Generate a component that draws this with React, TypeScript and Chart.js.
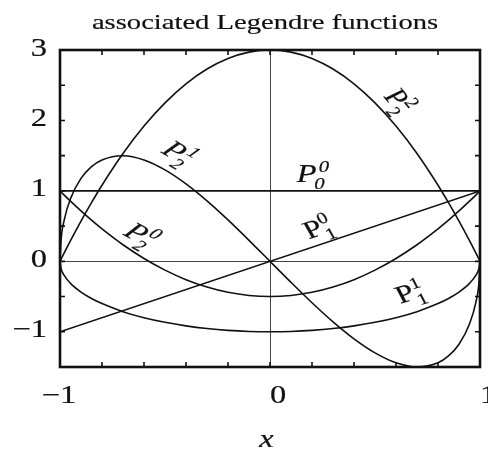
import { useEffect, useRef } from "react";
import { Chart, registerables } from "chart.js";

Chart.register(...registerables);

// Sample points on [-1, 1], denser near the ends where some curves turn steeply.
const X_GRID = [-1, -0.995, -0.98, -0.95, -0.9, -0.85, -0.8, -0.7, -0.6, -0.5, -0.4, -0.3, -0.2, -0.1, 0, 0.1, 0.2, 0.3, 0.4, 0.5, 0.6, 0.7, 0.8, 0.85, 0.9, 0.95, 0.98, 0.995, 1];
const X_ENDS = [-1, 1];

const P00 = [1, 1];
const P10 = [-1, 1];
const P11 = [0, -0.0999, -0.199, -0.3122, -0.4359, -0.5268, -0.6, -0.7141, -0.8, -0.866, -0.9165, -0.9539, -0.9798, -0.995, -1, -0.995, -0.9798, -0.9539, -0.9165, -0.866, -0.8, -0.7141, -0.6, -0.5268, -0.4359, -0.3122, -0.199, -0.0999, 0];
const P20 = [1, 0.985, 0.9406, 0.8538, 0.715, 0.5838, 0.46, 0.235, 0.04, -0.125, -0.26, -0.365, -0.44, -0.485, -0.5, -0.485, -0.44, -0.365, -0.26, -0.125, 0.04, 0.235, 0.46, 0.5838, 0.715, 0.8538, 0.9406, 0.985, 1];
const P21 = [0, 0.2982, 0.5851, 0.8898, 1.1769, 1.3433, 1.44, 1.4996, 1.44, 1.299, 1.0998, 0.8585, 0.5879, 0.2985, 0, -0.2985, -0.5879, -0.8585, -1.0998, -1.299, -1.44, -1.4996, -1.44, -1.3433, -1.1769, -0.8898, -0.5851, -0.2982, 0];
const P22 = [0, 0.0299, 0.1188, 0.2925, 0.57, 0.8325, 1.08, 1.53, 1.92, 2.25, 2.52, 2.73, 2.88, 2.97, 3, 2.97, 2.88, 2.73, 2.52, 2.25, 1.92, 1.53, 1.08, 0.8325, 0.57, 0.2925, 0.1188, 0.0299, 0];

// Axis ticks (inward marks) and the labelled values.
const X_MARKS = [-0.8, -0.6, -0.4, -0.2, 0, 0.2, 0.4, 0.6, 0.8];
const Y_MARKS = [-1, -0.5, 0, 0.5, 1, 1.5, 2, 2.5];
const X_LABELS = [-1, 0, 1];
const Y_LABELS = [-1, 0, 1, 2, 3];

const TITLE = "associated Legendre functions";
const X_TITLE = "x";

// Curve labels P_sub^sup, anchored in data coordinates.
const CURVE_LABELS = [
  { sub: "2", sup: "2", x: 0.61, y: 2.27, angle: 50, italic: false },
  { sub: "2", sup: "1", x: -0.438, y: 1.53, angle: 30, italic: true },
  { sub: "0", sup: "0", x: 0.2, y: 1.22, angle: 0, italic: true },
  { sub: "1", sup: "0", x: 0.229, y: 0.468, angle: -18.6, italic: false },
  { sub: "2", sup: "0", x: -0.619, y: 0.369, angle: 28, italic: true },
  { sub: "1", sup: "1", x: 0.667, y: -0.454, angle: -17, italic: false },
];

const SX = 1.3; // horizontal widening of the typeface
const FAMILY = '"Liberation Serif", "Times New Roman", serif';
const INK = "#111";
const TEXT_WEIGHT = 0.2;

function inkText(ctx: CanvasRenderingContext2D, text: string, x: number, y: number) {
  ctx.fillText(text, x, y);
  ctx.strokeText(text, x, y);
}

function wideText(ctx: CanvasRenderingContext2D, text: string, x: number, y: number, font: string, align: CanvasTextAlign) {
  ctx.save();
  ctx.translate(x, y);
  ctx.scale(SX, 1);
  ctx.font = font;
  ctx.textAlign = align;
  ctx.textBaseline = "alphabetic";
  ctx.fillStyle = INK;
  ctx.strokeStyle = INK;
  ctx.lineWidth = TEXT_WEIGHT;
  inkText(ctx, text, 0, 0);
  ctx.restore();
}

const pairs = (xs: number[], ys: number[]) => xs.map((x, i) => ({ x, y: ys[i] }));

const decorations = {
  id: "decorations",
  beforeDatasetsDraw(chart: any) {
    const { ctx, chartArea: a, scales } = chart;
    const xs = scales.x, ys = scales.y;
    ctx.save();
    ctx.strokeStyle = "#444";
    ctx.lineWidth = 1;
    const x0 = Math.round(xs.getPixelForValue(0)) + 0.5;
    const y0 = Math.round(ys.getPixelForValue(0)) + 0.5;
    ctx.beginPath();
    ctx.moveTo(x0, a.top);
    ctx.lineTo(x0, a.bottom);
    ctx.moveTo(a.left, y0);
    ctx.lineTo(a.right, y0);
    ctx.stroke();
    ctx.restore();
  },
  afterDatasetsDraw(chart: any) {
    const { ctx, chartArea: a, scales } = chart;
    const xs = scales.x, ys = scales.y;
    ctx.save();
    // frame
    ctx.strokeStyle = INK;
    ctx.lineWidth = 2.6;
    ctx.strokeRect(a.left, a.top, a.right - a.left, a.bottom - a.top);
    // inward tick marks
    ctx.lineWidth = 1.6;
    const len = 5;
    ctx.beginPath();
    for (const v of X_MARKS) {
      const px = xs.getPixelForValue(v);
      ctx.moveTo(px, a.bottom);
      ctx.lineTo(px, a.bottom - len);
      ctx.moveTo(px, a.top);
      ctx.lineTo(px, a.top + len);
    }
    for (const v of Y_MARKS) {
      const py = ys.getPixelForValue(v);
      ctx.moveTo(a.left, py);
      ctx.lineTo(a.left + len, py);
      ctx.moveTo(a.right, py);
      ctx.lineTo(a.right - len, py);
    }
    ctx.stroke();
    ctx.restore();

    const tickFont = `25px ${FAMILY}`;
    // y tick labels
    for (const v of Y_LABELS) {
      const txt = v < 0 ? "\u2212" + Math.abs(v) : String(v);
      wideText(ctx, txt, a.left - 13, ys.getPixelForValue(v) + 5.5, tickFont, "right");
    }
    // x tick labels: digits start at the tick, minus sign hangs to the left
    for (const v of X_LABELS) {
      const px = xs.getPixelForValue(v);
      const py = a.bottom + 36;
      wideText(ctx, String(Math.abs(v)), px, py, tickFont, "left");
      if (v < 0) wideText(ctx, "\u2212", px, py, tickFont, "right");
    }
    // axis title and chart title
    wideText(ctx, X_TITLE, (a.left + a.right) / 2 - 3.5, a.bottom + 80, `italic 25px ${FAMILY}`, "center");
    wideText(ctx, TITLE, (a.left + a.right) / 2 - 5, a.top - 21.5, `22px ${FAMILY}`, "center");

    // curve labels
    for (const lab of CURVE_LABELS) {
      const cx = xs.getPixelForValue(lab.x);
      const cy = ys.getPixelForValue(lab.y);
      const style = lab.italic ? "italic " : "";
      const fP = `${style}25px ${FAMILY}`;
      const fS = `${style}16px ${FAMILY}`;
      ctx.save();
      ctx.translate(cx, cy);
      ctx.scale(SX, 1);
      ctx.rotate(Math.atan(SX * Math.tan((lab.angle * Math.PI) / 180)));
      ctx.fillStyle = INK;
      ctx.strokeStyle = INK;
      ctx.lineWidth = TEXT_WEIGHT;
      ctx.textBaseline = "alphabetic";
      ctx.textAlign = "left";
      ctx.font = fP;
      const wP = ctx.measureText("P").width;
      ctx.font = fS;
      const wS = Math.max(ctx.measureText(lab.sub).width, ctx.measureText(lab.sup).width);
      const left = -(wP + wS) / 2;
      const base = 7;
      ctx.font = fP;
      inkText(ctx, "P", left, base);
      ctx.font = fS;
      inkText(ctx, lab.sub, left + wP - (lab.italic ? 2 : 0), base + 7);
      inkText(ctx, lab.sup, left + wP + (lab.italic ? 1.5 : 0), base - 10);
      ctx.restore();
    }
  },
};

export default function App() {
  const ref = useRef<HTMLCanvasElement>(null);
  useEffect(() => {
    document.body.style.margin = "0";
    const line = (data: { x: number; y: number }[]) => ({
      data,
      borderColor: INK,
      borderWidth: 1.6,
      pointRadius: 0,
      fill: false,
      cubicInterpolationMode: "monotone" as const,
    });
    const chart = new Chart(ref.current!, {
      type: "line",
      data: {
        datasets: [
          line(pairs(X_ENDS, P00)),
          line(pairs(X_ENDS, P10)),
          line(pairs(X_GRID, P11)),
          line(pairs(X_GRID, P20)),
          line(pairs(X_GRID, P21)),
          line(pairs(X_GRID, P22)),
        ],
      },
      options: {
        responsive: false,
        animation: false,
        devicePixelRatio: 1,
        layout: { padding: { left: 60, right: 8, top: 50, bottom: 86 } },
        scales: {
          x: { type: "linear", min: -1, max: 1, display: false },
          y: { type: "linear", min: -1.5, max: 3, display: false },
        },
        plugins: { legend: { display: false }, tooltip: { enabled: false }, title: { display: false } },
        events: [],
      },
      plugins: [decorations],
    });
    return () => chart.destroy();
  }, []);
  return (
    <div style={{ width: 488, height: 453, background: "#fff" }}>
      <canvas ref={ref} width={488} height={453} />
    </div>
  );
}
